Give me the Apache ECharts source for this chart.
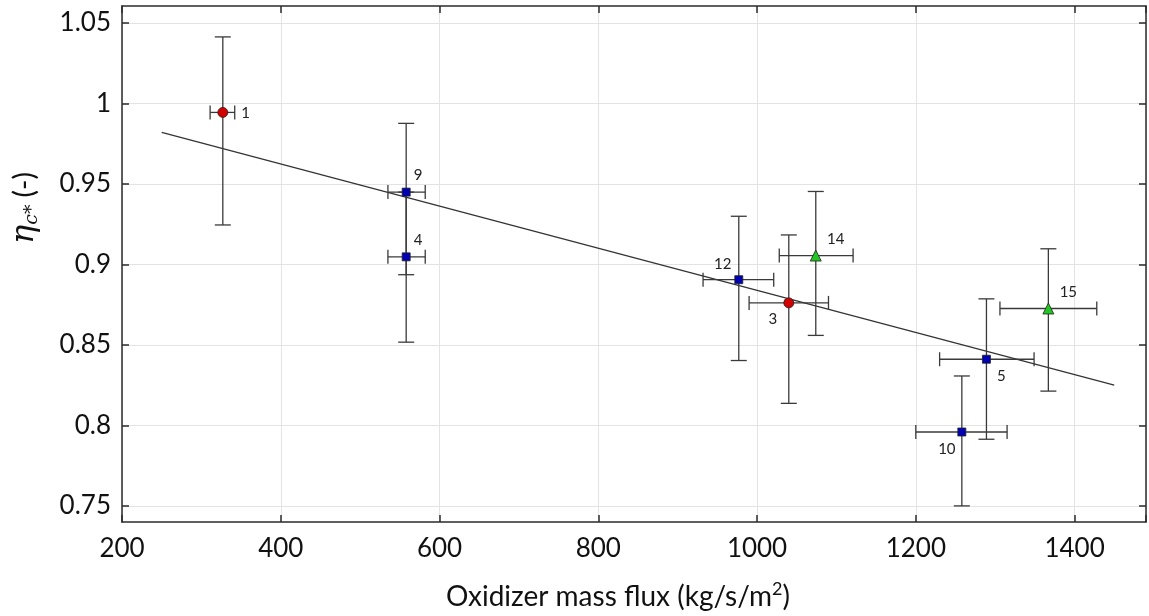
<!DOCTYPE html>
<html><head><meta charset="utf-8">
<script src="https://cdn.jsdelivr.net/npm/echarts@6/dist/echarts.min.js"></script>
<style>html,body{margin:0;padding:0;background:#fff}#c{width:1149px;height:616px}</style>
</head><body><div id="c"></div>
<script>
// Test IDs
const ids = ['1','9','4','12','3','14','5','10','15'];
// mass flux (kg/s/m2)
const xVals = [327, 558, 558, 977, 1040, 1074, 1289, 1258, 1367];
const xLow  = [311, 535, 535, 932, 990, 1028, 1230, 1200, 1306];
const xHigh = [342, 582, 582, 1021, 1090, 1121, 1349, 1315, 1428];
// efficiency
const yVals = [0.9944, 0.9449, 0.9047, 0.8905, 0.8761, 0.9055, 0.8411, 0.7959, 0.8726];
const yLow  = [0.9245, 0.8936, 0.8517, 0.8403, 0.8137, 0.8559, 0.7914, 0.7500, 0.8213];
const yHigh = [1.0413, 0.9876, 0.9449, 0.9299, 0.9183, 0.9453, 0.8786, 0.8307, 0.9097];
// marker group per point
const groups = ['red','blue','blue','blue','red','green','blue','blue','green'];
// fit line endpoints
const fitX = [250, 1450];
const fitY = [0.982, 0.825];
const xTicks = [200, 400, 600, 800, 1000, 1200, 1400];
const yTicks = [0.75, 0.8, 0.85, 0.9, 0.95, 1, 1.05];

const labelPos = {
  '1': {position:'right', offset:[8,1]},
  '9': {position:'top', offset:[12,0]},
  '4': {position:'top', offset:[12,0]},
  '12': {position:'top', offset:[-16,1]},
  '3': {position:'bottom', offset:[-16,-2]},
  '14': {position:'top', offset:[20,2]},
  '5': {position:'bottom', offset:[15,0]},
  '10': {position:'bottom', offset:[-15,0]},
  '15': {position:'top', offset:[20,2]}
};
const groupStyle = {
  red: {symbol:'circle', color:'#d40000', size:10},
  blue: {symbol:'rect', color:'#0000b4', size:8},
  green: {symbol:'triangle', color:'#22c522', size:11}
};
const FONT = 'Lato, "DejaVu Sans", sans-serif';
const AX = '#2b2b2b';

const errData = ids.map((id,i)=>[xVals[i], yVals[i], xLow[i], xHigh[i], yLow[i], yHigh[i]]);

function renderErr(params, api){
  const c = api.coord([api.value(0), api.value(1)]);
  const xl = api.coord([api.value(2), api.value(1)]);
  const xh = api.coord([api.value(3), api.value(1)]);
  const yl = api.coord([api.value(0), api.value(4)]);
  const yh = api.coord([api.value(0), api.value(5)]);
  const st = {stroke:'#3a3a3a', lineWidth:1.3};
  const cw = 8, ch = 7;
  const L = (x1,y1,x2,y2)=>({type:'line', shape:{x1,y1,x2,y2}, style:st});
  return {type:'group', children:[
    L(c[0], yl[1], c[0], yh[1]),
    L(c[0]-cw, yl[1], c[0]+cw, yl[1]),
    L(c[0]-cw, yh[1], c[0]+cw, yh[1]),
    L(xl[0], c[1], xh[0], c[1]),
    L(xl[0], c[1]-ch, xl[0], c[1]+ch),
    L(xh[0], c[1]-ch, xh[0], c[1]+ch)
  ]};
}

const scatterSeries = Object.keys(groupStyle).map(g=>{
  const s = groupStyle[g];
  return {
    type:'scatter', symbol:s.symbol, symbolSize:s.size, z:5,
    itemStyle:{color:s.color, borderColor:'#222', borderWidth:0.8, opacity:1},
    data: ids.map((id,i)=>groups[i]===g ? {value:[xVals[i], yVals[i]], name:id,
      label:Object.assign({show:true, formatter:id, fontSize:15, color:'#222', fontFamily:FONT}, labelPos[id])} : null).filter(d=>d)
  };
});

const chart = echarts.init(document.getElementById('c'), null, {renderer:'canvas'});
chart.setOption({
  animation:false,
  grid:{left:122, right:2, top:6, bottom:93, show:false},
  xAxis:[{
    type:'value', min:200, max:1490, interval:200,
    name:'Oxidizer mass flux (kg/s/m{sup|2})', nameLocation:'middle', nameGap:58,
    nameTextStyle:{fontSize:28, color:'#111', fontFamily:FONT, padding:[0,32,0,0],
      rich:{sup:{fontSize:18, verticalAlign:'bottom', padding:[0,0,16,0], fontFamily:FONT, color:'#111'}}},
    axisLine:{show:true, onZero:false, lineStyle:{color:AX, width:1.5}},
    axisTick:{show:true, inside:true, length:7, lineStyle:{color:AX, width:1.5}},
    axisLabel:{fontSize:26, color:'#111', fontFamily:FONT, margin:14, formatter:v=>xTicks.includes(v)?String(v):''},
    splitLine:{show:true, lineStyle:{color:'#e3e3e3', width:1}}
  },{
    type:'value', min:200, max:1490, interval:200, position:'top',
    axisLine:{show:true, onZero:false, lineStyle:{color:AX, width:1.5}},
    axisTick:{show:true, inside:true, length:7, lineStyle:{color:AX, width:1.5}},
    axisLabel:{show:false}, splitLine:{show:false}
  }],
  yAxis:[{
    type:'value', min:0.74, max:1.0605,
    name:'{it|η}{sub|c*} (-)', nameLocation:'middle', nameGap:80, nameRotate:90,
    nameTextStyle:{fontSize:28, color:'#111', fontFamily:FONT, padding:[0,0,0,112],
      rich:{it:{fontSize:32, fontStyle:'italic', fontFamily:'"DejaVu Serif", serif', color:'#111'},
            sub:{fontSize:19, fontStyle:'italic', fontFamily:'"DejaVu Serif", serif', verticalAlign:'top', padding:[16,0,0,0], color:'#111'}}},
    axisLine:{show:true, onZero:false, lineStyle:{color:AX, width:1.5}},
    axisTick:{show:true, inside:true, length:7, lineStyle:{color:AX, width:1.5}, customValues:yTicks},
    axisLabel:{fontSize:26, color:'#111', fontFamily:FONT, margin:11, customValues:yTicks, formatter:v=>String(+v.toFixed(2))},
    splitLine:{show:true, lineStyle:{color:'#e3e3e3', width:1}}
  },{
    type:'value', min:0.74, max:1.0605, position:'right',
    axisLine:{show:true, onZero:false, lineStyle:{color:AX, width:1.5}},
    axisTick:{show:true, inside:true, length:7, lineStyle:{color:AX, width:1.5}, customValues:yTicks},
    axisLabel:{show:false}, splitLine:{show:false}
  }],
  series:[
    {type:'line', data:fitX.map((x,i)=>[x, fitY[i]]), showSymbol:false, symbol:'none',
     lineStyle:{color:'#333', width:1.2}, z:2},
    {type:'custom', renderItem:renderErr, data:errData, z:3, encode:{x:0, y:1}},
    ...scatterSeries
  ]
});
</script></body></html>
